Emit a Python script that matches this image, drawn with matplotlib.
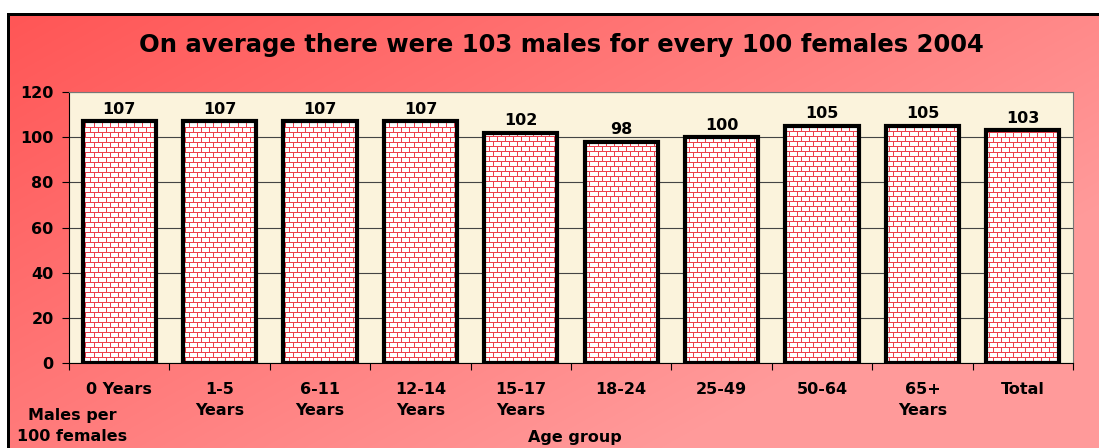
import numpy as np
import matplotlib
matplotlib.use("Agg")
import matplotlib.pyplot as plt
from matplotlib.ticker import FixedLocator

categories = ["0 Years", "1-5\nYears", "6-11\nYears", "12-14\nYears", "15-17\nYears",
              "18-24", "25-49", "50-64", "65+\nYears", "Total"]
values = [107, 107, 107, 107, 102, 98, 100, 105, 105, 103]
yticks = [0, 20, 40, 60, 80, 100, 120]
title = "On average there were 103 males for every 100 females 2004"

plt.rcParams['font.family'] = ['DejaVu Sans']
W, H = 1099, 448
fig = plt.figure(figsize=(W / 100, H / 100), dpi=100)

# gradient background with white strip + black border top/left
bg = fig.add_axes([0, 0, 1, 1], zorder=-10)
yy, xx = np.mgrid[0:H, 0:W]
t = np.clip(xx / W * 0.75 + yy / H * 0.55, 0, 1)
c0 = np.array([255, 84, 84]) / 255
c1 = np.array([255, 154, 154]) / 255
img = c0[None, None, :] * (1 - t[..., None]) + c1[None, None, :] * t[..., None]
img[:13, :, :] = 1.0
img[:, :7, :] = 1.0
img[13:16, 7:, :] = 0.0
img[13:, 7:10, :] = 0.0
bg.imshow(img, aspect='auto', interpolation='nearest')
bg.axis('off')

# plot area
L, R, T, B = 69, 1073, 92, 363
ax = fig.add_axes([L / W, 1 - B / H, (R - L) / W, (B - T) / H])
ax.set_facecolor('#fbf3dc')
x = np.arange(len(values))
bars = ax.bar(x, values, width=0.73, facecolor='none', edgecolor='black', linewidth=3, zorder=3)

# brick texture inside the bars
ph, pw = B - T, R - L
tex = np.ones((ph, pw, 3))
red = np.array([0.93, 0.25, 0.3])
for r in range(ph):
    if r % 5 == 0:
        tex[r, :, :] = red
    else:
        off = 0 if (r // 5) % 2 == 0 else 4
        tex[r, (np.arange(pw) + off) % 8 == 0, :] = red
for b in bars:
    im = ax.imshow(tex, extent=(-0.5, len(values) - 0.5, 0, 120), aspect='auto',
                   interpolation='nearest', zorder=2)
    im.set_clip_path(b)

ax.set_xlim(-0.5, len(values) - 0.5)
ax.set_ylim(0, 120)
ax.set_yticks(yticks)
ax.set_yticklabels([str(v) for v in yticks], fontsize=11.5, fontweight='bold')
ax.yaxis.grid(True, color='#444444', linewidth=0.8, zorder=1)
ax.set_axisbelow(True)
ax.set_xticks(x)
ax.set_xticklabels(categories, fontsize=11.5, fontweight='bold', linespacing=1.45, va='top')
ax.tick_params(axis='x', length=0, pad=14)
ax.xaxis.set_minor_locator(FixedLocator(np.arange(-0.5, len(values), 1.0)))
ax.tick_params(axis='x', which='minor', length=5, width=0.8)
ax.tick_params(axis='y', length=5, width=0.8, pad=6)
for s in ['top', 'right']:
    ax.spines[s].set_color('#777777')
    ax.spines[s].set_linewidth(0.8)
for s in ['left', 'bottom']:
    ax.spines[s].set_linewidth(0.8)

for xi, v in zip(x, values):
    ax.text(xi, v + 2, str(v), ha='center', va='bottom', fontsize=11.5, fontweight='bold')

fig.text(561 / W, 1 - 45 / H, title, ha='center', va='center', fontsize=17.5, fontweight='bold')
fig.text(72 / W, 1 - 426 / H, "Males per\n100 females", ha='center', va='center',
         fontsize=11.5, fontweight='bold', linespacing=1.5, multialignment='center')
fig.text(575 / W, 1 - 437 / H, "Age group", ha='center', va='center', fontsize=11.5, fontweight='bold')

fig.savefig("out.png", dpi=100)
